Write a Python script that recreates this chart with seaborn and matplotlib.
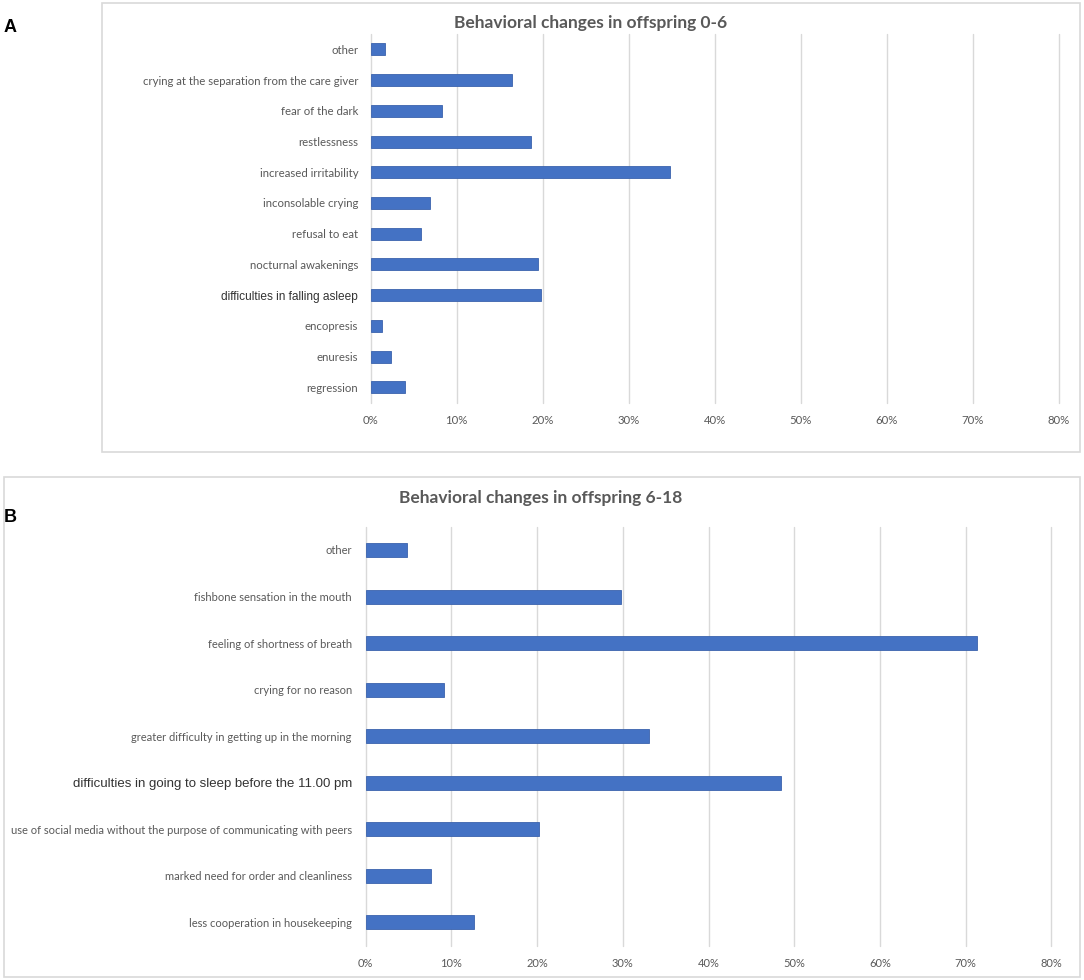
import matplotlib
matplotlib.use("Agg")
import matplotlib.pyplot as plt
import seaborn as sns
import pandas as pd
from matplotlib.patches import Rectangle
from matplotlib.ticker import PercentFormatter

# ---- data ----
cats_a = ["other", "crying at the separation from the care giver", "fear of the dark",
          "restlessness", "increased irritability", "inconsolable crying", "refusal to eat",
          "nocturnal awakenings", "difficulties in falling asleep", "encopresis",
          "enuresis", "regression"]
vals_a = [1.7, 16.4, 8.3, 18.6, 34.8, 6.9, 5.8, 19.5, 19.8, 1.3, 2.4, 4.0]

cats_b = ["other", "fishbone sensation in the mouth", "feeling of shortness of breath",
          "crying for no reason", "greater difficulty in getting up in the morning",
          "difficulties in going to sleep before the 11.00 pm",
          "use of social media without the purpose of communicating with peers",
          "marked need for order and cleanliness", "less cooperation in housekeeping"]
vals_b = [4.8, 29.8, 71.3, 9.1, 33.1, 48.5, 20.2, 7.6, 12.6]

title_a = "Behavioral changes in offspring 0-6"
title_b = "Behavioral changes in offspring 6-18"
xticks = [0, 10, 20, 30, 40, 50, 60, 70, 80]
special = {"difficulties in falling asleep", "difficulties in going to sleep before the 11.00 pm"}

sns.set_theme(style="white")
plt.rcParams['font.family'] = ['Lato', 'DejaVu Sans']

W, H = 1084, 980
fig = plt.figure(figsize=(W / 100, H / 100), dpi=100)

BAR = "#4472C4"
GREY = "#595959"

def px_axes(x0, y0, x1, y1):
    return fig.add_axes([x0 / W, 1 - y1 / H, (x1 - x0) / W, (y1 - y0) / H])

# panel frames
fig.patches.append(Rectangle((102 / W, 1 - 452 / H), (1080 - 102) / W, (452 - 3) / H,
                             transform=fig.transFigure, fill=False, edgecolor="#D9D9D9", lw=1.2))
fig.patches.append(Rectangle((4 / W, 1 - 977 / H), (1080 - 4) / W, (977 - 477) / H,
                             transform=fig.transFigure, fill=False, edgecolor="#D9D9D9", lw=1.2))

def panel(ax, cats, vals, width, ypad, fs, sfs):
    df = pd.DataFrame({"cat": cats, "val": vals})
    sns.barplot(data=df, x="val", y="cat", order=cats, orient="h", color=BAR,
                width=width, saturation=1, edgecolor="#3B63AD", linewidth=0.6, ax=ax)
    ax.set_xlim(0, 80)
    ax.set_ylim(len(cats) - 0.5, -0.5)
    ax.set_xticks(xticks)
    ax.xaxis.set_major_formatter(PercentFormatter(decimals=0))
    ax.grid(axis="x", color="#D9D9D9", lw=1.0)
    for gl in ax.get_xgridlines():
        gl.set_clip_on(False)
    ax.set_axisbelow(True)
    for s in ax.spines.values():
        s.set_visible(False)
    ax.set_xlabel("")
    ax.set_ylabel("")
    ax.tick_params(axis="x", length=0, pad=9, labelsize=fs, labelcolor=GREY)
    ax.tick_params(axis="y", length=0, pad=ypad, labelsize=fs, labelcolor=GREY)
    for lab in ax.get_yticklabels():
        if lab.get_text() in special:
            lab.set_family(["Liberation Sans", "DejaVu Sans"])
            lab.set_color("#333333")
            lab.set_fontsize(sfs)

ax_a = px_axes(370.7, 34, 1059, 402.7)
panel(ax_a, cats_a, vals_a, 0.39, 9, 8.2, 8.6)
ax_b = px_axes(365.7, 526.7, 1051.3, 945.7)
panel(ax_b, cats_b, vals_b, 0.30, 10, 8.0, 9.5)

fig.text(591 / W, 1 - 23 / H, title_a, ha="center", va="center", fontsize=12.5,
         fontweight="bold", color=GREY)
fig.text(541 / W, 1 - 498 / H, title_b, ha="center", va="center", fontsize=12.5,
         fontweight="bold", color=GREY)
fig.text(4 / W, 1 - 27 / H, "A", ha="left", va="center", fontsize=13, fontweight="bold",
         color="black", family=["Liberation Sans", "DejaVu Sans"])
fig.text(4 / W, 1 - 517 / H, "B", ha="left", va="center", fontsize=13, fontweight="bold",
         color="black", family=["Liberation Sans", "DejaVu Sans"])

fig.savefig("out.png", dpi=100, facecolor="white")
